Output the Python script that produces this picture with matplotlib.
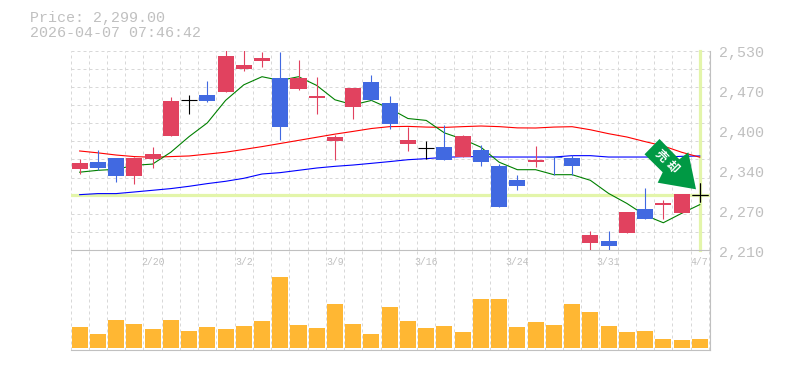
import matplotlib
matplotlib.use("Agg")
import matplotlib.pyplot as plt
from matplotlib.patches import Polygon

W, H = 785, 370
price_labels = ["2,530", "2,470", "2,400", "2,340", "2,270", "2,210"]
price_label_y = [53, 93, 133, 173, 213, 253]
date_idx = [4, 9, 14, 19, 24, 29, 34]
date_labels = ["2/20", "3/2", "3/9", "3/16", "3/24", "3/31", "4/7"]

# top of body, bottom of body, high, low, colour
tops = [2349.2, 2350.8, 2357, 2357, 2363.6, 2448.4, 2450, 2458, 2520.4, 2506, 2517.2, 2485.2,
        2485.2, 2456.4, 2390.8, 2469.2, 2478.8, 2445.2, 2386, 2373.2, 2374.8, 2392.4, 2370,
        2344.4, 2322, 2354, 2359.3, 2357.2, 2234, 2224.4, 2270.8, 2275.6, 2285, 2299.6, 2299]
bots = [2339.6, 2341.2, 2328.4, 2328.4, 2355.6, 2392.4, 2450, 2448.4, 2462.8, 2499.6, 2512.4, 2406.8,
        2467.6, 2453.2, 2384.4, 2438.8, 2450, 2411.6, 2379.6, 2373.2, 2354, 2359.3, 2350.8,
        2278.8, 2312.4, 2350.8, 2359.3, 2344.4, 2221.2, 2216.4, 2237.2, 2259.6, 2282, 2269, 2299]
highs = [2355.6, 2370, 2357, 2360, 2375, 2456, 2458, 2480.4, 2535, 2535, 2527, 2528,
         2514, 2488, 2394, 2469.2, 2490, 2456.4, 2406.8, 2384.4, 2410, 2394, 2378,
         2347.6, 2330, 2376.4, 2359.3, 2362, 2240.4, 2240, 2272, 2309, 2290, 2299.6, 2317]
lows = [2332, 2338, 2320, 2316, 2341, 2392.4, 2429, 2448, 2462.8, 2496.4, 2503, 2386,
        2466, 2429, 2354, 2419.6, 2450, 2403.6, 2368.4, 2356, 2354, 2359.3, 2344.4,
        2278.8, 2306, 2342.8, 2331, 2330, 2209, 2209, 2237.2, 2259.6, 2259.6, 2269, 2288]
kinds = list("rbbrrrkbrrrbrrrrbbrkbrbbbrbbrbrbrrk")

ma_green = [2335, 2338, 2339.6, 2346, 2348, 2367, 2392, 2414, 2450, 2475, 2488, 2482, 2488, 2474,
            2451, 2443, 2450, 2437, 2421, 2418, 2398, 2388, 2375, 2351, 2339, 2339, 2331, 2331,
            2322, 2301, 2285, 2266, 2254, 2269, 2283]
ma_red = [2369, 2366, 2362.5, 2360, 2359, 2360, 2361, 2364, 2367, 2371.5, 2376, 2381, 2386, 2391,
          2396, 2400.4, 2405, 2408, 2408.4, 2407.3, 2406.8, 2408, 2409, 2408, 2406, 2405.8, 2407.3,
          2407.9, 2403, 2396.7, 2391.4, 2384, 2377, 2367, 2359]
ma_blue = [2299, 2300.7, 2300.7, 2303.3, 2306, 2308.7, 2312.4, 2316.7, 2320.4, 2325.2, 2332.1,
           2334.3, 2338, 2341.7, 2344.4, 2346.5, 2349.2, 2352, 2355, 2356.7, 2358.8, 2359.9, 2359.9,
           2359.3, 2359.3, 2359.3, 2359.3, 2361.5, 2361.5, 2359.3, 2359.3, 2359.3, 2359.3, 2360.4, 2361]

volumes = [63, 42, 84, 72, 57, 84, 51, 63, 57, 66, 81, 213, 69, 60, 132, 72, 42, 123, 81, 60, 66,
           48, 147, 147, 63, 78, 69, 132, 108, 66, 48, 51, 27, 24, 27]
last_price = 2299
n = len(volumes)

plt.rcParams["font.family"] = ["Liberation Mono", "Noto Sans CJK JP", "DejaVu Sans"]
GREY = "#c0c0c0"
GRID = "#d8d8d8"
RED = "#e1425f"
BLUE = "#4169e1"
PALE = "#e3f5aa"
ORANGE = "#ffb733"
colors = {"r": RED, "b": BLUE, "k": "black"}

fig = plt.figure(figsize=(W / 100, H / 100), dpi=100)
L, R = 70.5, 710.0
UNIT = 18.24


def axes_px(x0, y0, x1, y1):
    return fig.add_axes([x0 / W, 1 - y1 / H, (x1 - x0) / W, (y1 - y0) / H])


grid_kw = dict(color=GRID, lw=0.72, ls=(0, (3, 3)))
ax = axes_px(L, 50.5, R, 250.2)
vol = axes_px(L, 250.2, R, 350.2)
for a in (ax, vol):
    a.set_xlim(-0.5, -0.5 + (R - L) / UNIT)
    a.set_xticks([i - 0.5 for i in range(0, n + 1)])
    a.tick_params(length=0, labelbottom=False, labelleft=False)
    a.set_axisbelow(True)
    a.xaxis.grid(True, **grid_kw)
    for s in a.spines.values():
        s.set_visible(False)
    for side in ("right", "bottom"):
        a.spines[side].set_visible(True)
        a.spines[side].set_color(GREY)
        a.spines[side].set_linewidth(0.8)

ax.set_ylim(2210, 2530)
ax.set_yticks([2210 + 320 * i / 11 for i in range(1, 12)])
ax.yaxis.grid(True, **grid_kw)

ax.axhline(last_price, color=PALE, lw=2.3, zorder=1)
ax.plot([n - 1, n - 1], [2211, 2530], color=PALE, lw=2.3, zorder=1, clip_on=False)

xs = list(range(n))
ax.plot(xs, ma_blue, color="#0000ff", lw=0.8, zorder=2)
ax.plot(xs, ma_red, color="#ff0000", lw=0.8, zorder=2)
ax.plot(xs, ma_green, color="#008000", lw=0.8, zorder=2)

for i in xs:
    c = colors[kinds[i]]
    ax.plot([i, i], [lows[i], highs[i]], color=c, lw=0.8, zorder=3, solid_capstyle="butt")
    if tops[i] - bots[i] < 1:
        ax.plot([i - 0.44, i + 0.44], [tops[i], tops[i]], color=c, lw=0.8, zorder=3,
                solid_capstyle="butt")
    else:
        ax.bar(i, tops[i] - bots[i], bottom=bots[i], width=0.88, color=c, zorder=4, lw=0)

vol.set_ylim(-7, 294)
vol.bar(xs, volumes, width=0.88, color=ORANGE, zorder=3, lw=0)


def px(x, y):
    return (x / W, 1 - y / H)


# signal arrow, drawn in figure pixels, above the price panel's marks
arrow_pts = [(659.5, 139), (644.5, 154.3), (662.7, 172.3), (657.7, 182.7), (696, 189.3),
             (688.3, 152.3), (679.3, 159.3)]
ax.add_patch(Polygon([px(*p) for p in arrow_pts], closed=True, transform=fig.transFigure,
                     facecolor="#009944", edgecolor="none", zorder=6, clip_on=False))
for (gx, gy), ch in zip([(661, 156), (672.5, 167.5)], "売却"):
    ax.text(*px(gx, gy), ch, transform=fig.transFigure, color="white", fontsize=8.6,
            fontweight="bold", rotation=-45, ha="center", va="center", zorder=7,
            family=["Noto Sans CJK JP"], clip_on=False)

# last price cross on top of the arrow
ax.plot((n - 1.44, n - 0.56), (last_price, last_price), color="black", lw=0.8, zorder=8,
        clip_on=False, solid_capstyle="butt")
ax.plot((n - 1, n - 1), (2288, 2317), color="black", lw=0.8, zorder=8, clip_on=False,
        solid_capstyle="butt")
ax.set_zorder(8)
ax.patch.set_alpha(0)

fs_big = 10.85
fig.text(*px(30, 18), "Price: 2,299.00", color=GREY, fontsize=fs_big, va="center", ha="left")
fig.text(*px(30, 33), "2026-04-07 07:46:42", color=GREY, fontsize=fs_big, va="center", ha="left")
for lab, y in zip(price_labels, price_label_y):
    fig.text(*px(719.5, y), lab, color=GREY, fontsize=fs_big, va="center", ha="left")
for i, lab in zip(date_idx, date_labels):
    vol.annotate(lab, xy=(i, 0), xycoords=("data", "axes fraction"), xytext=(0, 88),
                 textcoords="offset pixels", color=GREY, fontsize=7.1, ha="center", va="center",
                 annotation_clip=False)

fig.savefig("out.png", dpi=100)
